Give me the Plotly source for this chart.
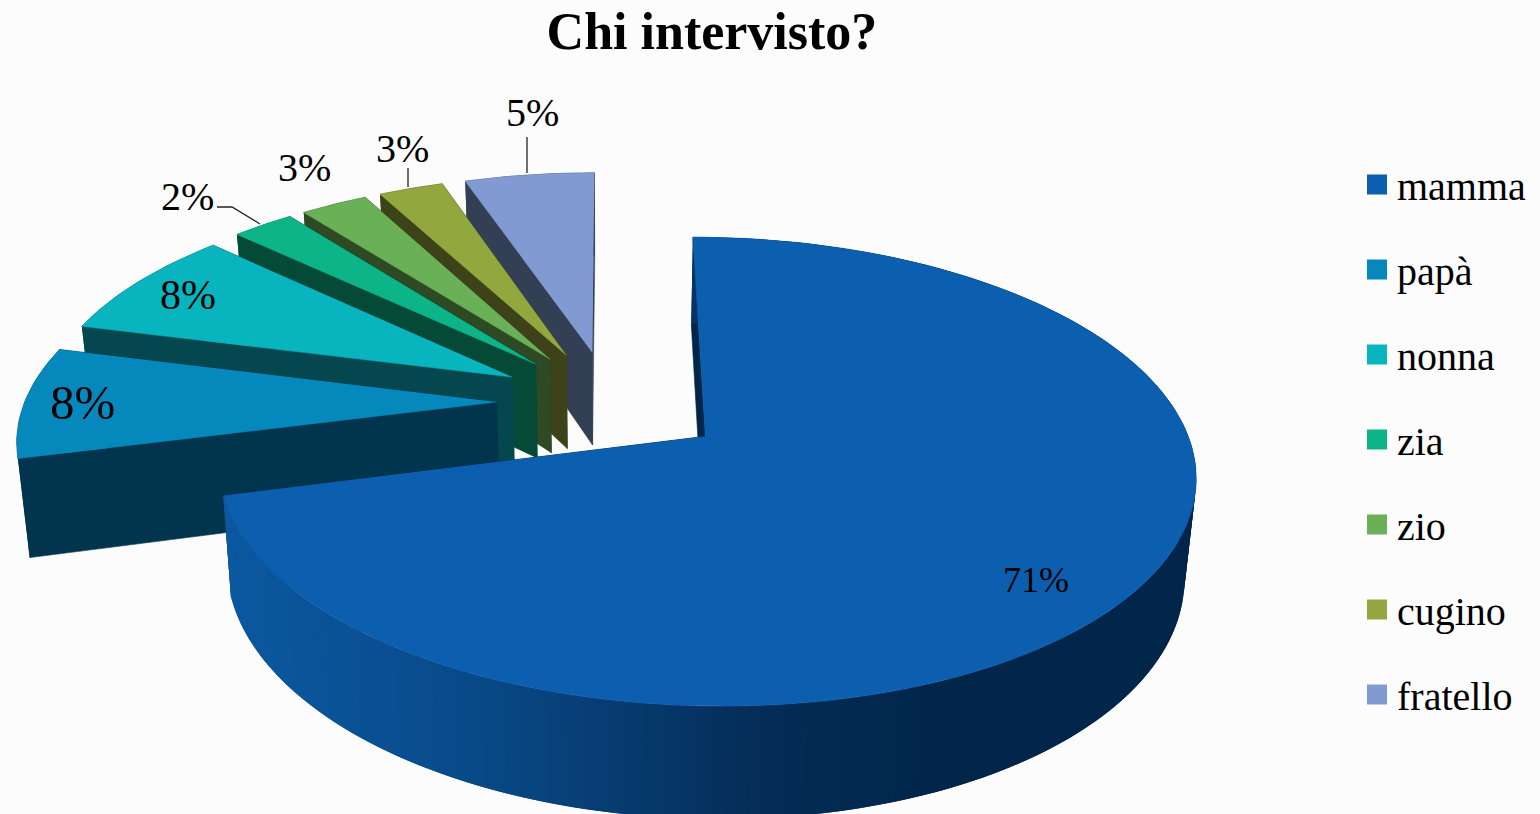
import numpy as np
import plotly.graph_objects as go

# ---- data ----
categories = ["mamma", "papà", "nonna", "zia", "zio", "cugino", "fratello"]
percent_labels = [71, 8, 8, 2, 3, 3, 5]
shares = [71, 8, 8, 2.5, 2.7, 2.6, 5.2]

# ---- styles ----
top_colors = ["#0b5fae", "#0589bd", "#08b5bf", "#0cb488", "#6ab056", "#92a83e", "#829ad2"]
side_colors = ["#02254a", "#00354d", "#04474f", "#044a36", "#2e4a25", "#3d4219", "#333f55"]
pulls = [0.25, 0.24, 0.24, 0.24, 0.24, 0.24, 0.24]
FONT = "Liberation Serif"

# ---- 3-D pie projection: disc coordinates to page axes ----
X0, Y0, A, B, E = 610.0, 402.0, 472.0, 219.0, 0.147


def project(px, py, bottom=False):
    den = 1 + E * py
    x = X0 + A * px / den
    y = Y0 - B * py / den
    if bottom:
        y = y + 93 + 0.056 * (y - 350)
        x = X0 + (x - X0) * 0.98
    return x, y


RIM_X = [230, 450, 600, 760, 950, 1200]
RIM_RGB = [(12, 88, 160), (9, 76, 140), (8, 62, 116), (5, 45, 88), (2, 38, 74), (2, 37, 74)]


def rim_color(x):
    c = [int(np.interp(x, RIM_X, [r[i] for r in RIM_RGB])) for i in range(3)]
    return f"rgb({c[0]},{c[1]},{c[2]})"


def poly(fig, xs, ys, color, width=0.6):
    fig.add_trace(go.Scatter(
        x=list(xs), y=list(ys), mode="lines", fill="toself", fillcolor=color,
        line=dict(color=color, width=width), hoverinfo="skip", showlegend=False))


fig = go.Figure()
fracs = np.array(shares) / sum(shares) * 2 * np.pi
ends = np.cumsum(fracs)
starts = ends - fracs

# painter order: back slices first, the large front slice last
for i in [6, 5, 4, 3, 2, 1, 0]:
    a0, a1 = starts[i], ends[i]
    mid = (a0 + a1) / 2
    ax, ay = pulls[i] * np.sin(mid), pulls[i] * np.cos(mid)
    th = np.linspace(a0, a1, max(int(shares[i] * 3), 24))
    rx, ry = ax + np.sin(th), ay + np.cos(th)
    tx, ty = project(rx, ry)
    bx, by = project(rx, ry, True)
    apx, apy = project(ax, ay)
    abx, aby = project(ax, ay, True)

    # cut faces
    poly(fig, [tx[0], apx, abx, bx[0]], [ty[0], apy, aby, by[0]], side_colors[i])
    poly(fig, [tx[-1], apx, abx, bx[-1]], [ty[-1], apy, aby, by[-1]], side_colors[i])
    # rim
    if i == 0:
        for k in range(len(th) - 1):
            xm = (tx[k] + tx[k + 1]) / 2
            n = min(k + 2, len(th) - 1)   # each band overlaps the next to hide seams
            poly(fig, [tx[k], tx[n], bx[n], bx[k]],
                 [ty[k], ty[n], by[n], by[k]], rim_color(xm), width=0)
    else:
        poly(fig, list(tx) + list(bx[::-1]), list(ty) + list(by[::-1]), side_colors[i])
    # top
    poly(fig, [apx] + list(tx), [apy] + list(ty), top_colors[i])

# leader lines
for lx, ly in [([217, 232, 260], [207, 207, 224]), ([408, 408], [168, 187]), ([527, 527], [137, 173])]:
    fig.add_trace(go.Scatter(x=lx, y=ly, mode="lines", line=dict(color="#222222", width=1.3),
                             hoverinfo="skip", showlegend=False))

# legend entries
for name, col in zip(categories, top_colors):
    fig.add_trace(go.Scatter(
        x=[None], y=[None], mode="markers", name=name, legendgroup=name,
        marker=dict(symbol="square", size=16, color=col, line=dict(color=col, width=4))))

# data labels
label_pos = [(1036, 580, 36), (82, 402, 49), (188, 295, 42), (187, 196, 40),
             (304, 167, 40), (402, 148, 40), (532, 112, 40)]
annotations = [dict(x=x, y=y, text=f"{v}%", showarrow=False, xanchor="center", yanchor="middle",
                    font=dict(family=FONT, size=s, color="#000000"))
               for v, (x, y, s) in zip(percent_labels, label_pos)]

fig.update_layout(
    width=1540, height=814, autosize=False,
    margin=dict(l=0, r=0, t=0, b=0),
    paper_bgcolor="#fcfcfc", plot_bgcolor="#fcfcfc",
    xaxis=dict(range=[0, 1540], visible=False, fixedrange=True),
    yaxis=dict(range=[814, 0], visible=False, fixedrange=True),
    title=dict(text="<b>Chi intervisto?</b>", x=712 / 1540, xanchor="center", y=1 - 31 / 814, yanchor="middle",
               font=dict(family=FONT, size=52, color="#000000")),
    legend=dict(x=1357 / 1540, xanchor="left", y=1 - 152 / 814, yanchor="top",
                tracegroupgap=30, font=dict(family=FONT, size=40, color="#000000"),
                bgcolor="rgba(0,0,0,0)"),
    annotations=annotations,
    showlegend=True,
)
fig.write_html("out.html", config={"displayModeBar": False},
               post_script="document.body.style.margin='0';document.body.style.overflow='hidden';")
